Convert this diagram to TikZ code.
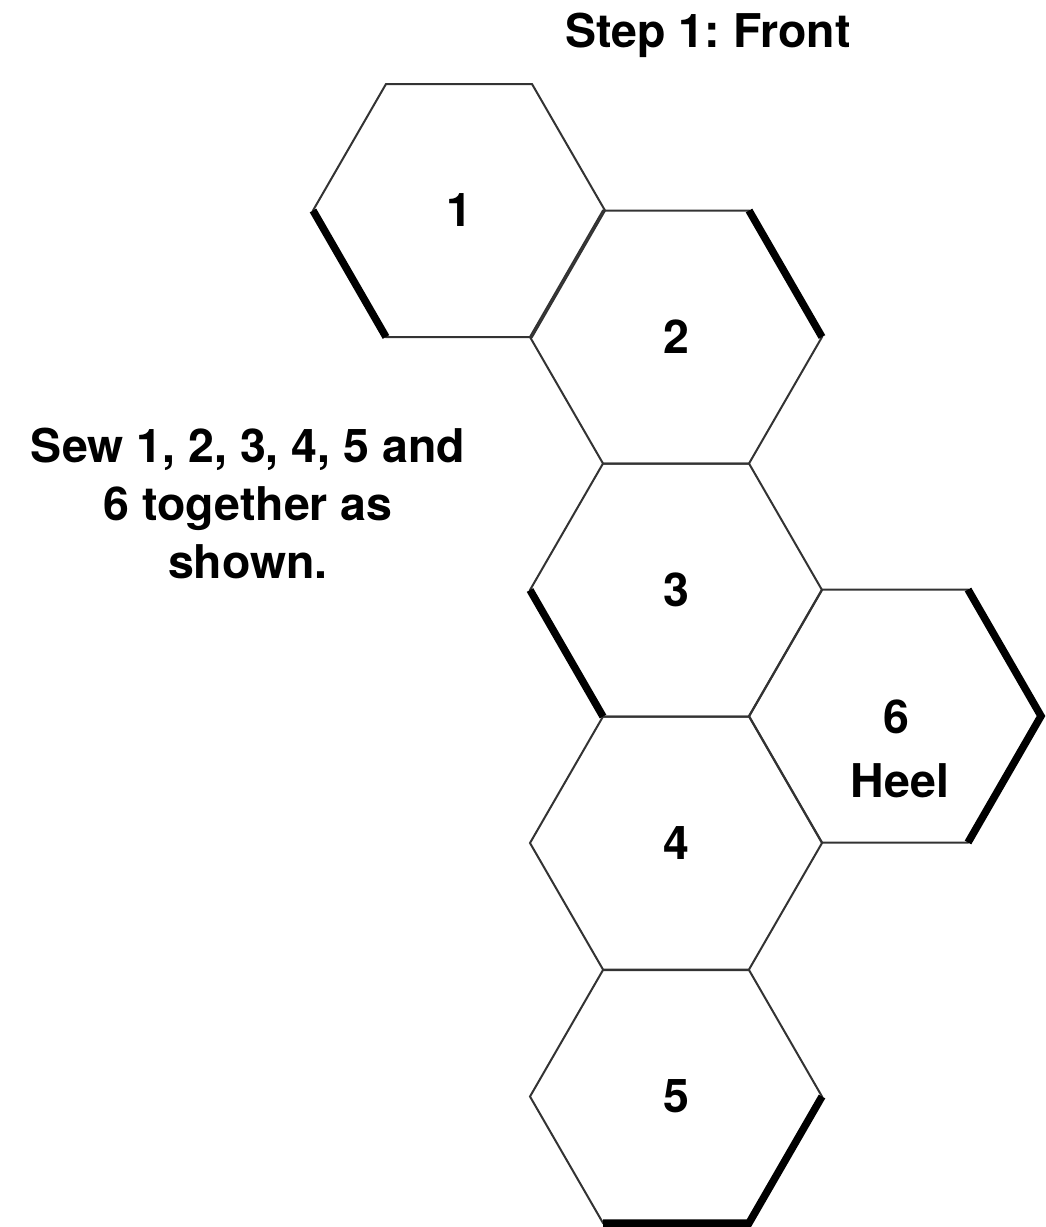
\documentclass[tikz,border=0pt]{standalone}
\usepackage{fontspec}
\setmainfont{TeX Gyre Heros}
\usetikzlibrary{calc}
\begin{document}
\frenchspacing
\begin{tikzpicture}[x=1pt,y=-1pt,
  thinedge/.style={draw=black!80,line width=2pt,line join=miter},
  thickedge/.style={draw=black,line width=7.5pt,line join=miter,line cap=butt},
  lbl/.style={font=\fontsize{46.5}{58}\selectfont\bfseries,inner sep=0pt,anchor=base},
  txt/.style={font=\fontsize{46.5}{58}\selectfont\bfseries,inner sep=0pt,align=center}]
\useasboundingbox (0,0) rectangle (1046,1227);
\fill[white] (0,0) rectangle (1046,1227);
\def\R{146}
\def\H{126.5}
% centers
\coordinate (c1) at (459,210.5);
\coordinate (c2) at (676,337);
\coordinate (c3) at (676,590);
\coordinate (c4) at (676,843);
\coordinate (c5) at (676,1096.5);
\coordinate (c6) at (895,716);
% hexagons
\foreach \c in {c1,c2,c3,c4,c5,c6}{
  \draw[thinedge] ($(\c)+(\R,0)$) -- ($(\c)+(73,\H)$) -- ($(\c)+(-73,\H)$)
    -- ($(\c)+(-\R,0)$) -- ($(\c)+(-73,-\H)$) -- ($(\c)+(73,-\H)$) -- cycle;
}
% thick edges
\draw[thickedge] ($(c1)+(-\R,0)$) -- ($(c1)+(-73,\H)$);
\draw[thickedge] ($(c2)+(73,-\H)$) -- ($(c2)+(\R,0)$);
\draw[thickedge] ($(c3)+(-\R,0)$) -- ($(c3)+(-73,\H)$);
\draw[thickedge] ($(c6)+(73,-\H)$) -- ($(c6)+(\R,0)$) -- ($(c6)+(73,\H)$);
\draw[thickedge] ($(c5)+(\R,0)$) -- ($(c5)+(73,\H)$) -- ($(c5)+(-73,\H)$);
% labels
\node[lbl] (t1) at ($(c1)+(0,16)$) {1};
\node[lbl] (t2) at ($(c2)+(0,16)$) {2};
\node[lbl] (t3) at ($(c3)+(0,16)$) {3};
\node[lbl] (t4) at ($(c4)+(0,16)$) {4};
\node[lbl] (t5) at ($(c5)+(0,16)$) {5};
\node[lbl] (t6) at (896,733) {6};
\node[lbl] (heel) at (900,797) {Heel};
\node[lbl] (title) at (708,47) {Step 1: Front};
\node[txt] (sew) at (248,503) {Sew 1, 2, 3, 4, 5 and\\6 together as\\shown.};
\end{tikzpicture}
\end{document}
